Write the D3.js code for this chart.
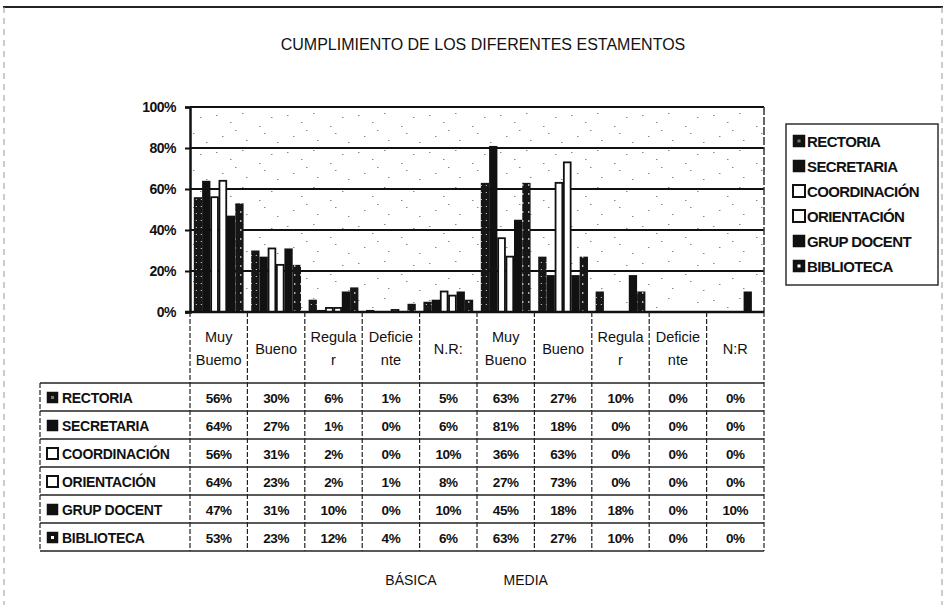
<!DOCTYPE html>
<html>
<head>
<meta charset="utf-8">
<script src="https://cdn.jsdelivr.net/npm/d3@7"></script>
<style>
  html, body { margin: 0; padding: 0; background: #fff; }
  svg { display: block; font-family: Arial, 'Liberation Sans', sans-serif; }
</style>
</head>
<body>
<svg id="chart" width="946" height="610"></svg>
<script>
// categories (two levels, as in the Excel data table)
const categories = [['Muy', 'Buemo'], ['Bueno'], ['Regula', 'r'], ['Deficie', 'nte'], ['N.R:'],
                    ['Muy', 'Bueno'], ['Bueno'], ['Regula', 'r'], ['Deficie', 'nte'], ['N:R']];
const levels = ['BÁSICA', 'MEDIA'];
const series = ['RECTORIA', 'SECRETARIA', 'COORDINACIÓN', 'ORIENTACIÓN', 'GRUP DOCENT', 'BIBLIOTECA'];

// values in %
const rectoria     = [56, 30, 6, 1, 5, 63, 27, 10, 0, 0];
const secretaria   = [64, 27, 1, 0, 6, 81, 18, 0, 0, 0];
const coordinacion = [56, 31, 2, 0, 10, 36, 63, 0, 0, 0];
const orientacion  = [64, 23, 2, 1, 8, 27, 73, 0, 0, 0];
const grupDocent   = [47, 31, 10, 0, 10, 45, 18, 18, 0, 10];
const biblioteca   = [53, 23, 12, 4, 6, 63, 27, 10, 0, 0];
const yTicks = [0, 20, 40, 60, 80, 100];

const seriesValues = [rectoria, secretaria, coordinacion, orientacion, grupDocent, biblioteca];
const fills = ['url(#speckA)', '#111', '#fff', '#fff', '#111', 'url(#speckB)'];

const svg = d3.select('#chart');
const defs = svg.append('defs');

/* scan-like textures */
const pA = defs.append('pattern').attr('id', 'speckA').attr('patternUnits', 'userSpaceOnUse')
  .attr('width', 5).attr('height', 7);
pA.append('rect').attr('width', 5).attr('height', 7).attr('fill', '#161616');
pA.append('rect').attr('x', 2).attr('y', 3).attr('width', 1).attr('height', 1).attr('fill', '#ddd');

const pB = defs.append('pattern').attr('id', 'speckB').attr('patternUnits', 'userSpaceOnUse')
  .attr('width', 6).attr('height', 9);
pB.append('rect').attr('width', 6).attr('height', 9).attr('fill', '#161616');
pB.append('rect').attr('x', 3).attr('y', 4).attr('width', 1).attr('height', 2).attr('fill', '#eee');

// sparse background specks of the scanned plot area
const pBg = defs.append('pattern').attr('id', 'noise').attr('patternUnits', 'userSpaceOnUse')
  .attr('width', 71).attr('height', 37);
[[3, 4], [17, 11], [29, 2], [46, 15], [9, 25], [33, 29], [58, 6], [64, 31], [51, 22], [22, 19]]
  .forEach(p => {
    pBg.append('rect').attr('x', p[0]).attr('y', p[1]).attr('width', 1.5).attr('height', 1)
      .attr('fill', '#888');
  });

/* frame */
svg.append('line').attr('x1', 3).attr('x2', 943).attr('y1', 7).attr('y2', 7)
  .attr('stroke', '#222').attr('stroke-width', 2);
[4, 942].forEach(xx => {
  svg.append('line').attr('x1', xx).attr('x2', xx).attr('y1', 7).attr('y2', 605)
    .attr('stroke', '#999').attr('stroke-width', 1).attr('stroke-dasharray', '6,5');
});

svg.append('text').attr('x', 483).attr('y', 44)
  .attr('text-anchor', 'middle').attr('dominant-baseline', 'central')
  .attr('font-size', 16).attr('fill', '#111')
  .text('CUMPLIMIENTO DE LOS DIFERENTES ESTAMENTOS');

/* scales */
const x = d3.scaleBand().domain(d3.range(categories.length)).range([190, 764]);
const xs = d3.scaleBand().domain(series).range([0, x.bandwidth()]).paddingOuter(0.46);
const y = d3.scaleLinear().domain([0, 100]).range([312, 107]);

svg.append('rect').attr('x', 190).attr('y', y(100)).attr('width', 764 - 190)
  .attr('height', y(0) - y(100)).attr('fill', 'url(#noise)');

// gridlines
svg.append('g').selectAll('line').data(yTicks.filter(t => t > 0)).join('line')
  .attr('x1', 190).attr('x2', 764)
  .attr('y1', d => y(d)).attr('y2', d => y(d))
  .attr('stroke', '#111').attr('stroke-width', 2);

svg.append('line').attr('x1', 764).attr('x2', 764).attr('y1', y(100)).attr('y2', y(0))
  .attr('stroke', '#333').attr('stroke-width', 1.5).attr('stroke-dasharray', '8,2');

// bars
const groups = svg.append('g').selectAll('g').data(series).join('g')
  .attr('transform', d => `translate(${xs(d)},0)`);
groups.each(function(name, si) {
  const hollow = fills[si] === '#fff';
  d3.select(this).selectAll('rect').data(seriesValues[si]).join('rect')
    .attr('x', (d, i) => x(i) + (hollow ? 0.75 : 0))
    .attr('y', d => y(d))
    .attr('width', xs.bandwidth() - (hollow ? 1.5 : 0))
    .attr('height', d => y(0) - y(d))
    .attr('fill', fills[si])
    .attr('stroke', hollow ? '#111' : 'none')
    .attr('stroke-width', 1.8);
});

// y axis
const ax = svg.append('g').attr('transform', 'translate(190,0)')
  .call(d3.axisLeft(y).tickValues(yTicks).tickFormat(d => d + '%').tickSize(5).tickPadding(9));
ax.select('.domain').attr('stroke', '#111').attr('stroke-width', 2.5);
ax.selectAll('.tick line').attr('stroke', '#111').attr('stroke-width', 2);
ax.selectAll('.tick text').attr('font-size', 14).attr('font-weight', 'bold')
  .attr('font-family', 'Arial, Liberation Sans, sans-serif').attr('fill', '#111')
  .attr('letter-spacing', -0.5);
svg.append('line').attr('x1', 185).attr('x2', 764).attr('y1', y(0)).attr('y2', y(0))
  .attr('stroke', '#111').attr('stroke-width', 2.5);

/* data table */
const rowTop = 383, rowH = 28, tableLeft = 40;
const tab = svg.append('g');

// header cells
const heads = tab.selectAll('g.head').data(categories).join('g').attr('class', 'head');
heads.each(function(lines, i) {
  const g = d3.select(this);
  const cx = x(i) + x.bandwidth() / 2;
  const mid = (y(0) + rowTop) / 2 + 1;
  lines.forEach((ln, k) => {
    g.append('text').attr('x', cx).attr('y', mid + (k - (lines.length - 1) / 2) * 23)
      .attr('text-anchor', 'middle').attr('dominant-baseline', 'central')
      .attr('font-size', 14.5).attr('fill', '#111').text(ln);
  });
});

// vertical lines
const bounds = d3.range(categories.length + 1).map(i => i < categories.length ? x(i) : 764);
tab.selectAll('line.v').data(bounds).join('line').attr('class', 'v')
  .attr('x1', d => d).attr('x2', d => d)
  .attr('y1', y(0)).attr('y2', rowTop + rowH * series.length)
  .attr('stroke', '#222').attr('stroke-width', 1.2).attr('stroke-dasharray', '5,2');
tab.append('line').attr('x1', tableLeft).attr('x2', tableLeft)
  .attr('y1', rowTop).attr('y2', rowTop + rowH * series.length)
  .attr('stroke', '#222').attr('stroke-width', 1.2).attr('stroke-dasharray', '5,2');

// horizontal lines
tab.selectAll('line.h').data(d3.range(series.length + 1)).join('line').attr('class', 'h')
  .attr('x1', tableLeft).attr('x2', 764)
  .attr('y1', d => rowTop + d * rowH).attr('y2', d => rowTop + d * rowH)
  .attr('stroke', '#222').attr('stroke-width', 1.6);

function swatch(g, si, sx, sy, size) {
  g.append('rect').attr('x', sx).attr('y', sy).attr('width', size).attr('height', size)
    .attr('fill', fills[si] === '#fff' ? '#fff' : '#111')
    .attr('stroke', '#111').attr('stroke-width', fills[si] === '#fff' ? 2 : 0.5);
  if (si === 0 || si === 5) {
    g.append('rect').attr('x', sx + size / 2 - 1.5).attr('y', sy + size / 2 - 1.5)
      .attr('width', 3).attr('height', 3).attr('fill', si === 0 ? '#777' : '#fff');
  }
}

// rows
const rows = tab.selectAll('g.row').data(series).join('g').attr('class', 'row')
  .attr('transform', (d, i) => `translate(0,${rowTop + i * rowH + rowH / 2 + 1})`);
rows.each(function(name, si) {
  const g = d3.select(this);
  swatch(g, si, 47, -6, 11);
  g.append('text').attr('x', 62).attr('y', 0).attr('dominant-baseline', 'central')
    .attr('font-size', 14).attr('font-weight', 'bold').attr('fill', '#111')
    .attr('letter-spacing', -0.3).text(name);
  g.selectAll('text.val').data(seriesValues[si]).join('text').attr('class', 'val')
    .attr('x', (d, i) => x(i) + x.bandwidth() / 2).attr('y', 0)
    .attr('text-anchor', 'middle').attr('dominant-baseline', 'central')
    .attr('font-size', 13.5).attr('font-weight', 'bold').attr('fill', '#111')
    .attr('letter-spacing', -0.4)
    .text(d => d + '%');
});

// second-level labels
const levelX = [x(3) + x.bandwidth() * 0.85, x(6) - x.bandwidth() * 0.15];
svg.selectAll('text.lvl').data(levels).join('text').attr('class', 'lvl')
  .attr('x', (d, i) => levelX[i]).attr('y', rowTop + rowH * series.length + 29)
  .attr('text-anchor', 'middle').attr('dominant-baseline', 'central')
  .attr('font-size', 14).attr('fill', '#111').text(d => d);

/* legend */
const lg = svg.append('g');
lg.append('rect').attr('x', 786).attr('y', 124).attr('width', 152).attr('height', 161)
  .attr('fill', '#fff').attr('stroke', '#222').attr('stroke-width', 1.4);
const items = lg.selectAll('g').data(series).join('g')
  .attr('transform', (d, i) => `translate(0,${141 + i * 25})`);
items.each(function(name, si) {
  const g = d3.select(this);
  swatch(g, si, 793, -6, 12);
  g.append('text').attr('x', 807).attr('y', 0).attr('dominant-baseline', 'central')
    .attr('font-size', 15).attr('font-weight', 'bold').attr('fill', '#111')
    .attr('letter-spacing', -0.6).text(name);
});
</script>
</body>
</html>
